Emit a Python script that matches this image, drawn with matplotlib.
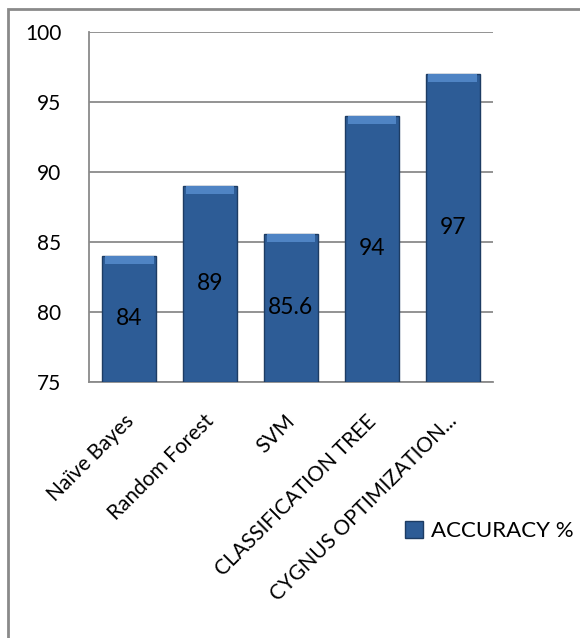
import matplotlib.pyplot as plt
from matplotlib.patches import Rectangle
from matplotlib.transforms import ScaledTranslation

models = ["Naïve Bayes", "Random Forest", "SVM", "CLASSIFICATION TREE",
          "CYGNUS OPTIMIZATION..."]
accuracy = [84, 89, 85.6, 94, 97]
labels = ["84", "89", "85.6", "94", "97"]
yticks = [75, 80, 85, 90, 95, 100]

plt.rcParams['font.family'] = ['Lato', 'DejaVu Sans']

fig = plt.figure(figsize=(5.8, 6.38), dpi=100)
ax = fig.add_axes([0.1534, 0.4013, 0.6966, 0.5486])

x = range(len(models))
base = 75
bars = ax.bar(x, [v - base for v in accuracy], bottom=base, width=0.67,
              color='#2d5c96', edgecolor='#1d3c63', linewidth=1.0, zorder=3,
              label='ACCURACY %')
# lighter bevel at the top of each bar
ax.bar(x, [0.6] * len(models), bottom=[v - 0.6 for v in accuracy], width=0.6,
       color='#4f84c4', linewidth=0, zorder=4)

for i, v in enumerate(accuracy):
    ax.text(i, (base + v) / 2, labels[i], ha='center', va='center',
            fontsize=16.5, color='black', zorder=5)

ax.set_ylim(75, 100)
ax.set_xlim(-0.5, len(models) - 0.5)
ax.set_yticks(yticks)
ax.tick_params(axis='y', length=0, pad=20, labelsize=15)
ax.tick_params(axis='x', length=0, pad=21, labelsize=15)
ax.set_xticks(list(x))
ax.set_xticklabels(models, rotation=45, ha='right', rotation_mode='anchor')
shift = ScaledTranslation(-6 / 100, 0, fig.dpi_scale_trans)
for lbl in ax.get_xticklabels():
    lbl.set_transform(lbl.get_transform() + shift)
ax.grid(axis='y', color='#8a8a8a', linewidth=1.3, zorder=1)
for s in ['top', 'right']:
    ax.spines[s].set_visible(False)
for s in ['left', 'bottom']:
    ax.spines[s].set_color('#8a8a8a')
    ax.spines[s].set_linewidth(1.3)

leg = fig.legend(handles=[bars], loc='center left',
                 bbox_to_anchor=(405 / 580, 1 - 531 / 638), frameon=False,
                 fontsize=16, borderpad=0, borderaxespad=0,
                 handlelength=0.8, handleheight=0.8, handletextpad=0.35)

# outer chart border
fig.patches.append(Rectangle((8 / 580, -0.1), 1.2, 1 - 9 / 638 + 0.1,
                             transform=fig.transFigure, fill=False,
                             edgecolor='#8a8a8a', linewidth=2))

fig.savefig('out.png', dpi=100)
